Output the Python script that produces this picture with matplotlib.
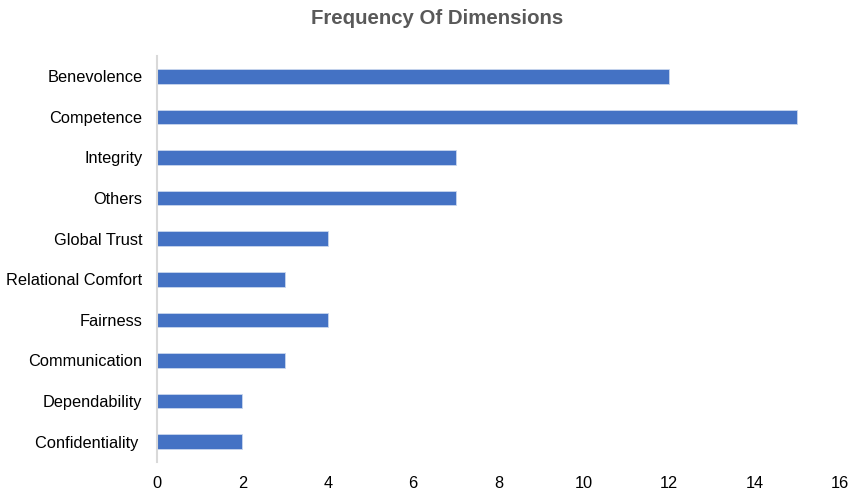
import matplotlib
matplotlib.use("Agg")
import matplotlib.pyplot as plt

categories = ["Benevolence", "Competence", "Integrity", "Others", "Global Trust",
              "Relational Comfort", "Fairness", "Communication", "Dependability",
              "Confidentiality "]
values = [12, 15, 7, 7, 4, 3, 4, 3, 2, 2]
xticks = [0, 2, 4, 6, 8, 10, 12, 14, 16]

plt.rcParams['font.family'] = ['Liberation Sans', 'DejaVu Sans']

fig = plt.figure(figsize=(8.51, 4.90), dpi=100)
ax = fig.add_axes([157/851, 1-462/490, (840-157)/851, (462-56)/490])

ypos = list(range(len(categories)))
ax.barh(ypos, values, height=0.36, color="#4472C4", edgecolor="#C9D6EE", linewidth=0.6)
ax.set_ylim(len(categories)-0.5, -0.5)
ax.set_xlim(0, 16)
ax.set_yticks(ypos)
ax.set_yticklabels(categories, fontsize=11.8, color="black")
ax.set_xticks(xticks)
ax.set_xticklabels([str(t) for t in xticks], fontsize=11.8, color="black")
ax.tick_params(axis='both', length=0)
ax.tick_params(axis='x', pad=10)
ax.tick_params(axis='y', pad=10.5)
for s in ["top", "right", "bottom"]:
    ax.spines[s].set_visible(False)
ax.spines["left"].set_color("#D9D9D9")
ax.spines["left"].set_linewidth(1.5)

fig.text(437/851, 1-19/490, "Frequency Of Dimensions", ha="center", va="center",
         fontsize=14.7, fontweight="bold", color="#595959")

fig.savefig("out.png", dpi=100)
